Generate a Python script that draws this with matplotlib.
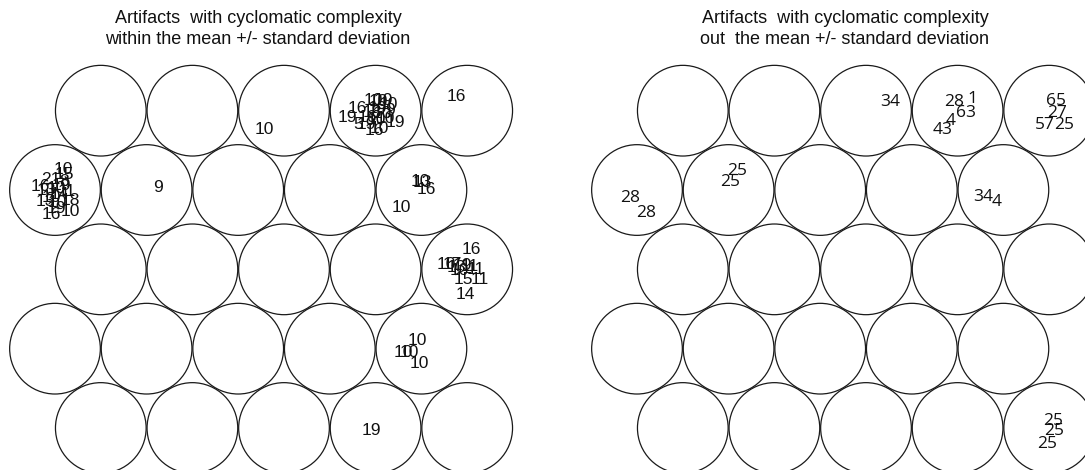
import numpy as np
import matplotlib
matplotlib.use("Agg")
import matplotlib.pyplot as plt
from matplotlib.patches import Circle

# SOM grid: 5 x 5 hexagonal
n_rows = 5
n_cols = 5

titles = ["Artifacts  with cyclomatic complexity\nwithin the mean +/- standard deviation",
          "Artifacts  with cyclomatic complexity\nout  the mean +/- standard deviation"]

# ---- left map: labels, unit (row from bottom, column), jitter offsets
left_labels = ["10", "16", "9",
               "10", "13", "16", "10",
               "16", "10", "17", "13", "19", "11", "10", "11", "15", "11", "14",
               "10", "10", "10", "10",
               "19",
               "10", "10", "19", "10", "16", "19", "18", "16", "10", "9", "19", "10", "5", "19", "16", "10", "10", "19",
               "16", "21", "10", "15", "13", "10", "19", "11", "14", "10", "18", "10", "19", "16", "10", "8", "13"]
left_rows = [5, 5, 4,
             4, 4, 4, 4,
             3, 3, 3, 3, 3, 3, 3, 3, 3, 3, 3,
             2, 2, 2, 2,
             1,
             5, 5, 5, 5, 5, 5, 5, 5, 5, 5, 5, 5, 5, 5, 5, 5, 5, 5,
             4, 4, 4, 4, 4, 4, 4, 4, 4, 4, 4, 4, 4, 4, 4, 4, 4]
left_cols = [3, 5, 2,
             5, 5, 5, 5,
             5, 5, 5, 5, 5, 5, 5, 5, 5, 5, 5,
             5, 5, 5, 5,
             4,
             4, 4, 4, 4, 4, 4, 4, 4, 4, 4, 4, 4, 4, 4, 4, 4, 4, 4,
             1, 1, 1, 1, 1, 1, 1, 1, 1, 1, 1, 1, 1, 1, 1, 1, 1]
left_jit_x = [-0.22, -0.12, 0.12,
              -0.01, 0.01, 0.05, -0.22,
              0.05, -0.23, -0.16, -0.12, -0.05, 0.03, -0.09, 0.09, -0.04, 0.14, -0.02,
              -0.05, -0.20, -0.13, -0.02,
              -0.05,
              -0.03, 0.03, 0.09, 0.14, -0.20, -0.31, -0.04, -0.09, 0.07, 0.16, 0.22, 0.01, -0.19, -0.10, -0.01, 0.04, 0.11, 0.02,
              -0.16, -0.05, 0.09, 0.10, -0.09, 0.01, 0.07, 0.13, 0.05, -0.04, 0.17, 0.03, 0.01, -0.04, 0.17, 0.10, -0.11]
left_jit_y = [-0.21, 0.15, 0.03,
              0.09, 0.08, 0.01, -0.19,
              0.22, 0.05, 0.05, 0.02, 0.04, 0.03, -0.01, 0.00, -0.11, -0.11, -0.28,
              0.09, -0.04, -0.04, -0.16,
              -0.03,
              0.11, 0.10, 0.11, 0.07, 0.02, -0.07, -0.02, -0.07, -0.03, 0.00, -0.13, -0.10, -0.15, -0.15, -0.22, -0.19, -0.09, 0.02,
              0.04, 0.12, 0.22, 0.17, 0.00, 0.02, 0.05, -0.02, -0.05, -0.08, -0.11, -0.14, -0.20, -0.27, -0.23, 0.09, -0.13]

# ---- right map
right_labels = ["34",
                "28", "1", "63", "4", "43",
                "65", "27", "57", "25",
                "28", "28",
                "25", "25",
                "34", "4",
                "25", "25", "25"]
right_rows = [5, 5, 5, 5, 5, 5, 5, 5, 5, 5, 4, 4, 4, 4, 4, 4, 1, 1, 1]
right_cols = [3, 4, 4, 4, 4, 4, 5, 5, 5, 5, 1, 1, 2, 2, 5, 5, 5, 5, 5]
right_jit_x = [0.26, -0.04, 0.16, 0.09, -0.08, -0.16, 0.07, 0.09, -0.05, 0.16,
               -0.07, 0.10, 0.09, 0.02, -0.22, -0.07, 0.04, 0.05, -0.02]
right_jit_y = [0.10, 0.10, 0.13, -0.03, -0.11, -0.21, 0.11, -0.02, -0.16, -0.16,
               -0.09, -0.25, 0.21, 0.09, -0.08, -0.13, 0.08, -0.03, -0.17]

H = np.sqrt(3) / 2


def unit_center(r, c):
    x = c + (0.5 if r % 2 == 1 else 0.0)
    y = (r - 1) * H
    return x, y


fig = plt.figure(figsize=(10.85, 4.7), dpi=100)
W, HH = 1085.0, 470.0
s = 91.6  # px per unit

panels = [
    dict(left_px=0, right_px=542, c1_px=55, labels=left_labels, rows=left_rows, cols=left_cols,
         jx=left_jit_x, jy=left_jit_y, font="Liberation Sans", fs=12.5, title_x=258),
    dict(left_px=542, right_px=1085, c1_px=637, labels=right_labels, rows=right_rows, cols=right_cols,
         jx=right_jit_x, jy=right_jit_y, font="Open Sans", fs=12.5, title_x=845),
]

for i, p in enumerate(panels):
    ax = fig.add_axes([p["left_px"] / W, 0, (p["right_px"] - p["left_px"]) / W, 1])
    ax.set_xlim(1 + (p["left_px"] - p["c1_px"]) / s, 1 + (p["right_px"] - p["c1_px"]) / s)
    ax.set_ylim((428 - HH) / s, 428 / s)
    ax.axis("off")
    for r in range(1, n_rows + 1):
        for c in range(1, n_cols + 1):
            x, y = unit_center(r, c)
            ax.add_patch(Circle((x, y), 0.495, fill=False, edgecolor="#1a1a1a", linewidth=0.9))
    for lab, r, c, dx, dy in zip(p["labels"], p["rows"], p["cols"], p["jx"], p["jy"]):
        x, y = unit_center(r, c)
        ax.text(x + dx, y + dy, lab, ha="center", va="center", fontsize=p["fs"],
                family=p["font"], color="#111111")
    fig.text(p["title_x"] / W, 1 - 29 / HH, titles[i],
             ha="center", va="center", fontsize=13, family="Liberation Sans",
             color="#111111", linespacing=1.38)

fig.savefig("out.png", dpi=100, facecolor="white")
